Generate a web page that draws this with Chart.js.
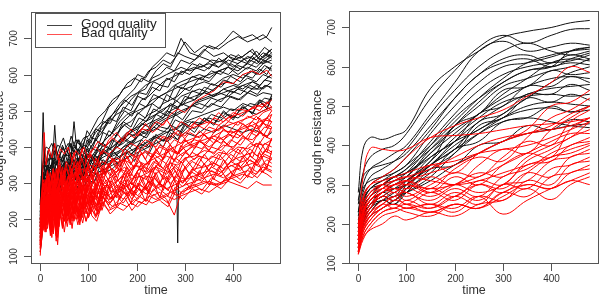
<!DOCTYPE html>
<html>
<head>
<meta charset="utf-8">
<script src="https://cdn.jsdelivr.net/npm/chart.js@4.4.1/dist/chart.umd.min.js"></script>
<style>
  html, body { margin: 0; padding: 0; background: #fff; }
  #wrap { position: relative; width: 604px; height: 297px; }
  canvas { position: absolute; top: 0; }
  #rawChart { left: 0; }
  #smoothChart { left: 302px; }
</style>
</head>
<body>
<div id="wrap">
  <canvas id="rawChart" width="302" height="297"></canvas>
  <canvas id="smoothChart" width="302" height="297"></canvas>
</div>
<script>
// Tick labels for both panels
const xTicks = [0, 100, 200, 300, 400];
const yTicks = [100, 200, 300, 400, 500, 600, 700];

// Time points of the raw (left) curves; three sampling grids
const rawTimesA = [0, 4, 8, 12, 18, 24, 30, 36, 42, 50, 58, 66, 74, 82, 90, 100, 110, 120, 135, 150,
  165, 180, 195, 210, 225, 240, 255, 270, 285, 300, 320, 340, 360, 380, 400, 420, 440, 455, 470, 480];
const rawTimesB = [0, 2, 6, 10, 15, 21, 27, 33, 39, 46, 54, 62, 70, 78, 86, 95, 105, 115, 128, 142,
  158, 172, 188, 202, 218, 232, 248, 262, 278, 292, 310, 330, 350, 370, 390, 410, 430, 448, 462, 480];
const rawTimesC = [0, 3, 7, 11, 16, 22, 28, 34, 40, 48, 56, 64, 72, 80, 88, 97, 107, 117, 130, 145,
  160, 175, 190, 205, 220, 235, 250, 265, 280, 295, 315, 335, 355, 375, 395, 415, 435, 450, 465, 480];

// Raw dough resistance, good quality
const goodRawA = [
  [250, 330, 380, 400, 395, 410, 385, 405, 400, 390, 410, 395, 420, 405, 425, 430, 455, 480, 500, 530, 545, 575, 590, 580, 610, 620, 640, 630, 655, 690, 660, 680, 670, 690, 720, 700, 710, 695, 705, 730],
  [220, 280, 320, 310, 340, 330, 460, 340, 350, 330, 360, 340, 370, 350, 380, 390, 410, 440, 460, 490, 520, 540, 560, 590, 580, 610, 630, 620, 660, 650, 640, 670, 650, 660, 640, 650, 670, 640, 660, 670],
  [200, 250, 290, 280, 300, 320, 300, 330, 310, 340, 320, 350, 340, 370, 350, 380, 370, 400, 420, 440, 470, 490, 500, 530, 540, 560, 580, 590, 600, 610, 620, 610, 630, 640, 620, 640, 650, 630, 640, 650],
  [180, 230, 270, 260, 290, 280, 310, 290, 320, 300, 330, 320, 340, 330, 350, 340, 370, 360, 390, 400, 420, 440, 450, 470, 490, 500, 520, 530, 540, 560, 570, 580, 570, 590, 600, 590, 610, 600, 620, 610],
  [160, 210, 250, 240, 270, 260, 290, 270, 300, 280, 310, 290, 320, 300, 330, 320, 340, 350, 360, 380, 390, 410, 420, 440, 450, 470, 480, 500, 510, 520, 530, 550, 540, 560, 570, 560, 580, 570, 590, 600],
  [200, 260, 300, 290, 310, 300, 330, 310, 340, 320, 350, 330, 360, 340, 370, 350, 380, 370, 400, 390, 420, 430, 450, 460, 480, 490, 500, 520, 510, 530, 540, 550, 540, 560, 550, 570, 560, 560, 570, 560],
  [130, 180, 220, 240, 230, 260, 240, 270, 260, 280, 270, 290, 280, 300, 290, 310, 300, 320, 330, 340, 360, 370, 390, 400, 420, 430, 440, 460, 450, 470, 480, 490, 500, 510, 500, 520, 510, 530, 520, 540],
  [160, 210, 250, 270, 260, 280, 270, 300, 280, 310, 290, 310, 300, 320, 310, 330, 320, 330, 340, 350, 360, 370, 380, 390, 400, 410, 420, 430, 420, 440, 430, 450, 440, 460, 450, 440, 450, 440, 430, 440],
  [110, 160, 200, 220, 210, 240, 230, 250, 240, 270, 260, 280, 270, 300, 290, 310, 300, 330, 340, 360, 370, 390, 410, 420, 440, 450, 470, 480, 490, 500, 520, 530, 540, 550, 560, 570, 580, 570, 590, 600],
  [190, 260, 250, 310, 280, 330, 300, 345, 315, 360, 320, 365, 335, 375, 345, 380, 360, 395, 380, 420, 405, 440, 430, 465, 455, 490, 480, 515, 505, 540, 530, 565, 555, 585, 575, 600, 590, 615, 600, 625],
  [170, 240, 230, 285, 260, 305, 280, 320, 290, 335, 300, 345, 310, 355, 320, 365, 335, 375, 350, 390, 370, 405, 385, 420, 400, 435, 415, 450, 430, 465, 450, 480, 465, 495, 480, 510, 495, 525, 505, 535],
  [150, 220, 210, 265, 240, 285, 255, 300, 270, 315, 280, 325, 290, 335, 300, 345, 315, 355, 330, 370, 345, 385, 360, 400, 380, 420, 400, 440, 420, 460, 440, 480, 460, 500, 475, 515, 490, 530, 505, 545]
];
const goodRawB = [
  [240, 300, 495, 330, 350, 340, 370, 355, 380, 360, 390, 375, 400, 390, 410, 400, 430, 450, 470, 510, 530, 560, 570, 600, 590, 620, 640, 660, 650, 700, 660, 650, 680, 670, 690, 705, 690, 700, 710, 690],
  [210, 260, 300, 290, 320, 310, 340, 320, 350, 330, 360, 350, 470, 360, 380, 370, 400, 420, 440, 470, 490, 500, 530, 550, 560, 590, 600, 620, 610, 640, 630, 650, 640, 620, 650, 640, 630, 650, 640, 660],
  [190, 240, 280, 270, 290, 310, 290, 320, 300, 330, 310, 340, 330, 360, 340, 370, 360, 380, 400, 410, 430, 460, 470, 490, 510, 520, 540, 550, 570, 580, 590, 600, 590, 610, 620, 600, 620, 610, 630, 640],
  [170, 220, 260, 280, 270, 300, 280, 310, 290, 320, 300, 330, 310, 340, 320, 350, 340, 370, 380, 390, 410, 420, 440, 450, 470, 480, 500, 510, 520, 540, 550, 560, 550, 570, 580, 570, 590, 580, 600, 590],
  [150, 200, 240, 260, 250, 280, 260, 290, 280, 300, 290, 320, 300, 330, 310, 340, 330, 350, 370, 380, 400, 410, 430, 440, 460, 470, 480, 500, 490, 520, 510, 530, 540, 550, 540, 560, 550, 570, 560, 580],
  [140, 190, 230, 220, 250, 240, 270, 250, 280, 260, 290, 280, 300, 290, 320, 300, 330, 340, 350, 370, 380, 400, 410, 430, 440, 450, 470, 480, 490, 500, 510, 520, 510, 530, 540, 530, 550, 540, 550, 545],
  [180, 240, 280, 270, 290, 280, 310, 290, 320, 300, 330, 310, 320, 300, 330, 310, 330, 340, 350, 360, 370, 380, 390, 400, 410, 420, 430, 440, 450, 460, 470, 460, 480, 470, 490, 480, 500, 490, 500, 510],
  [230, 290, 330, 320, 350, 340, 360, 350, 370, 360, 380, 370, 390, 380, 400, 390, 420, 440, 460, 480, 500, 520, 540, 550, 570, 580, 590, 600, 610, 620, 610, 620, 630, 620, 640, 630, 650, 640, 660, 650],
  [200, 250, 290, 310, 300, 320, 310, 340, 320, 350, 330, 360, 340, 370, 350, 380, 370, 390, 410, 430, 450, 470, 490, 500, 510, 530, 540, 550, 560, 570, 580, 590, 600, 610, 620, 610, 630, 620, 640, 630],
  [210, 280, 270, 330, 300, 350, 320, 360, 330, 375, 340, 385, 355, 395, 365, 405, 385, 420, 405, 445, 430, 470, 455, 495, 480, 520, 505, 545, 530, 565, 555, 590, 580, 610, 600, 625, 615, 640, 630, 655],
  [240, 320, 300, 360, 330, 380, 350, 395, 365, 405, 375, 410, 385, 420, 395, 430, 410, 450, 440, 480, 470, 510, 500, 540, 530, 565, 555, 590, 580, 610, 600, 630, 615, 645, 625, 655, 635, 665, 645, 670]
];
const goodRawC = [
  [200, 280, 330, 300, 350, 315, 365, 330, 355, 380, 335, 385, 350, 370, 345, 395, 370, 360, 410, 395, 440, 460, 445, 480, 470, 505, 495, 485, 530, 515, 555, 545, 575, 565, 595, 580, 610, 600, 625, 615],
  [180, 255, 305, 280, 325, 295, 340, 310, 330, 355, 315, 360, 330, 350, 325, 370, 345, 340, 385, 370, 410, 425, 410, 445, 435, 470, 455, 450, 490, 475, 515, 505, 535, 525, 555, 545, 570, 560, 585, 580],
  [220, 300, 350, 325, 370, 340, 390, 350, 375, 400, 360, 410, 375, 395, 370, 420, 395, 390, 440, 430, 470, 500, 485, 520, 510, 545, 535, 525, 570, 560, 595, 585, 610, 600, 630, 615, 640, 630, 655, 645],
  [160, 235, 285, 260, 305, 280, 320, 290, 315, 340, 300, 345, 315, 335, 310, 355, 330, 325, 365, 350, 380, 395, 380, 410, 400, 430, 420, 415, 450, 440, 470, 465, 490, 480, 505, 500, 520, 515, 535, 530],
  [240, 320, 370, 345, 390, 365, 410, 375, 400, 425, 385, 430, 400, 420, 395, 445, 425, 420, 470, 465, 500, 530, 515, 550, 545, 580, 570, 565, 605, 600, 630, 620, 640, 635, 655, 645, 665, 650, 675, 660],
  [190, 265, 315, 290, 335, 300, 350, 315, 340, 365, 325, 370, 340, 360, 335, 380, 355, 350, 395, 380, 400, 420, 405, 435, 425, 455, 445, 440, 475, 465, 500, 495, 520, 510, 540, 530, 555, 545, 570, 565]
];

// One good curve with a sharp drop near time 285
const dipTimes = [283, 285, 287];
const dipValues = [300, 135, 310];

// Raw dough resistance, bad quality
const badRawA = [
  [200, 290, 440, 350, 395, 370, 410, 365, 395, 380, 400, 360, 390, 375, 400, 370, 395, 415, 400, 425, 410, 440, 425, 450, 445, 470, 460, 490, 505, 495, 525, 540, 555, 580, 575, 600, 610, 600, 612, 595],
  [170, 215, 270, 240, 300, 235, 295, 270, 325, 260, 320, 290, 345, 280, 320, 305, 350, 315, 340, 365, 355, 390, 370, 395, 410, 400, 430, 420, 445, 430, 465, 450, 480, 470, 495, 485, 510, 500, 525, 510],
  [150, 195, 245, 210, 260, 200, 285, 190, 280, 230, 295, 225, 300, 250, 290, 240, 315, 270, 305, 320, 340, 315, 350, 345, 360, 385, 370, 395, 380, 405, 420, 410, 430, 445, 440, 455, 470, 455, 480, 470],
  [130, 175, 225, 185, 245, 165, 255, 150, 262, 195, 275, 195, 285, 205, 270, 225, 285, 240, 295, 275, 300, 290, 315, 320, 330, 345, 335, 355, 350, 370, 375, 390, 385, 405, 400, 425, 420, 440, 430, 445],
  [110, 155, 205, 165, 225, 150, 235, 130, 245, 165, 255, 175, 262, 185, 255, 205, 265, 220, 275, 255, 285, 270, 290, 280, 305, 290, 315, 300, 320, 310, 340, 345, 355, 340, 365, 375, 385, 370, 395, 385],
  [140, 195, 245, 225, 265, 235, 275, 215, 285, 245, 295, 255, 305, 235, 295, 245, 285, 255, 295, 275, 285, 265, 295, 275, 305, 285, 295, 275, 285, 295, 305, 315, 325, 315, 335, 345, 355, 345, 365, 355],
  [120, 165, 215, 185, 235, 195, 245, 165, 245, 195, 255, 205, 245, 195, 255, 205, 245, 215, 255, 235, 245, 235, 255, 245, 265, 255, 265, 275, 265, 285, 295, 305, 295, 305, 315, 325, 315, 335, 325, 315],
  [150, 230, 215, 265, 225, 280, 215, 290, 235, 300, 240, 305, 250, 315, 260, 320, 270, 330, 285, 340, 300, 345, 315, 355, 330, 365, 340, 375, 355, 385, 365, 400, 380, 415, 395, 430, 410, 445, 425, 455],
  [170, 250, 240, 300, 255, 320, 250, 330, 270, 335, 280, 340, 290, 350, 300, 355, 310, 365, 320, 370, 330, 375, 340, 385, 350, 395, 365, 405, 380, 420, 395, 435, 410, 450, 425, 465, 440, 480, 455, 490],
  [155, 215, 200, 250, 210, 265, 195, 275, 215, 285, 225, 290, 235, 300, 245, 305, 255, 315, 265, 320, 275, 330, 290, 340, 300, 350, 310, 360, 320, 370, 335, 380, 345, 390, 360, 400, 370, 415, 385, 425],
  [145, 205, 195, 245, 200, 260, 190, 270, 205, 280, 215, 285, 225, 290, 235, 295, 245, 300, 250, 305, 255, 310, 265, 320, 270, 330, 280, 335, 290, 345, 300, 355, 310, 365, 320, 375, 330, 385, 340, 390],
  [160, 220, 270, 250, 290, 260, 300, 250, 310, 270, 320, 280, 330, 270, 320, 290, 330, 300, 340, 320, 340, 330, 350, 340, 360, 370, 380, 390, 380, 400, 410, 420, 430, 420, 440, 450, 460, 470, 480, 490]
];
const badRawB = [
  [180, 240, 300, 270, 335, 290, 340, 300, 370, 315, 360, 340, 385, 330, 395, 360, 390, 400, 380, 420, 440, 415, 450, 430, 465, 440, 455, 475, 445, 470, 455, 480, 465, 495, 470, 505, 500, 515, 510, 530],
  [160, 200, 250, 225, 270, 240, 300, 205, 290, 255, 305, 240, 310, 270, 300, 260, 325, 285, 320, 345, 330, 365, 355, 375, 385, 370, 405, 395, 420, 410, 440, 425, 455, 445, 470, 460, 485, 475, 495, 505],
  [140, 185, 230, 195, 250, 175, 265, 165, 270, 210, 285, 205, 295, 215, 285, 235, 290, 255, 310, 290, 305, 320, 300, 335, 345, 330, 360, 375, 365, 380, 395, 415, 400, 420, 435, 425, 450, 440, 465, 455],
  [120, 165, 215, 175, 235, 155, 245, 140, 255, 175, 265, 185, 270, 200, 265, 215, 275, 235, 285, 265, 295, 285, 300, 290, 320, 315, 335, 325, 345, 330, 360, 375, 365, 385, 380, 400, 395, 410, 405, 420],
  [100, 150, 195, 165, 215, 170, 225, 160, 235, 180, 245, 190, 255, 205, 245, 195, 255, 210, 265, 240, 275, 255, 285, 265, 290, 275, 300, 285, 295, 305, 315, 325, 335, 325, 345, 355, 365, 355, 375, 365],
  [130, 185, 235, 195, 255, 205, 265, 185, 265, 215, 275, 225, 265, 215, 275, 235, 265, 225, 275, 255, 265, 245, 275, 255, 285, 265, 275, 255, 212, 275, 285, 295, 305, 295, 315, 325, 335, 325, 345, 335],
  [110, 155, 205, 175, 225, 185, 235, 155, 235, 185, 245, 195, 235, 185, 245, 195, 235, 205, 245, 225, 235, 225, 245, 235, 255, 245, 255, 265, 255, 265, 275, 285, 275, 295, 305, 295, 285, 305, 295, 295],
  [135, 200, 190, 240, 185, 255, 170, 265, 200, 275, 205, 280, 215, 285, 230, 295, 240, 300, 255, 310, 260, 320, 275, 330, 285, 340, 295, 350, 310, 360, 325, 370, 335, 380, 350, 395, 365, 410, 380, 420],
  [125, 185, 170, 225, 175, 240, 160, 245, 180, 255, 190, 260, 195, 270, 205, 275, 215, 280, 225, 290, 235, 295, 245, 300, 250, 310, 260, 320, 270, 330, 285, 335, 295, 345, 305, 355, 315, 365, 330, 370],
  [180, 260, 250, 310, 270, 330, 265, 340, 280, 345, 285, 350, 300, 360, 310, 365, 320, 370, 330, 380, 340, 390, 350, 400, 365, 410, 380, 420, 390, 435, 405, 445, 420, 460, 440, 470, 455, 485, 465, 500],
  [165, 240, 225, 280, 240, 300, 230, 310, 250, 320, 260, 325, 270, 330, 275, 340, 285, 345, 295, 355, 305, 365, 320, 370, 330, 380, 345, 395, 360, 405, 375, 420, 390, 430, 405, 445, 420, 460, 430, 470],
  [190, 260, 310, 290, 330, 300, 340, 290, 350, 300, 340, 310, 350, 320, 340, 330, 350, 340, 360, 350, 370, 360, 380, 370, 390, 380, 400, 390, 400, 410, 420, 430, 440, 450, 460, 470, 480, 490, 500, 510],
  [180, 250, 300, 270, 320, 280, 330, 270, 340, 290, 350, 300, 360, 310, 370, 330, 380, 350, 390, 380, 400, 390, 410, 400, 420, 410, 430, 420, 440, 430, 450, 460, 470, 460, 480, 490, 500, 510, 520, 500]
];
const badRawC = [
  [140, 210, 250, 205, 270, 230, 285, 215, 260, 290, 225, 300, 250, 280, 230, 295, 260, 240, 300, 255, 285, 310, 265, 300, 280, 320, 290, 305, 335, 300, 340, 320, 360, 345, 380, 360, 395, 375, 410, 400],
  [120, 180, 225, 190, 240, 175, 255, 200, 230, 260, 195, 265, 215, 245, 205, 270, 225, 210, 265, 230, 250, 275, 240, 265, 250, 285, 260, 245, 290, 270, 300, 280, 315, 300, 330, 310, 345, 330, 355, 345],
  [160, 230, 275, 240, 300, 255, 310, 245, 290, 320, 260, 325, 280, 305, 270, 330, 295, 280, 335, 300, 325, 345, 310, 340, 330, 360, 345, 330, 370, 355, 385, 370, 400, 390, 420, 405, 440, 430, 455, 450],
  [130, 195, 240, 200, 255, 185, 270, 210, 245, 275, 210, 280, 230, 260, 220, 285, 240, 225, 280, 245, 270, 290, 255, 285, 270, 300, 280, 265, 310, 290, 320, 305, 335, 320, 350, 335, 365, 350, 380, 370],
  [150, 220, 260, 225, 285, 240, 295, 230, 275, 305, 245, 310, 265, 290, 255, 315, 275, 260, 320, 285, 305, 330, 295, 320, 310, 345, 325, 310, 350, 330, 360, 345, 375, 365, 395, 380, 410, 400, 430, 420],
  [110, 165, 210, 170, 225, 160, 240, 185, 215, 245, 180, 250, 200, 230, 190, 255, 210, 195, 250, 215, 235, 260, 225, 250, 240, 270, 250, 235, 275, 255, 285, 270, 300, 285, 315, 300, 330, 315, 340, 330],
  [170, 245, 290, 255, 315, 270, 325, 265, 305, 335, 275, 340, 295, 320, 285, 345, 310, 295, 350, 320, 345, 365, 335, 360, 350, 380, 365, 350, 390, 375, 405, 395, 425, 410, 445, 430, 460, 450, 475, 470],
  [135, 200, 245, 210, 265, 200, 280, 220, 255, 285, 220, 290, 240, 270, 230, 295, 250, 235, 290, 260, 280, 300, 270, 295, 285, 315, 295, 280, 320, 300, 330, 315, 345, 330, 360, 345, 375, 360, 390, 380]
];

// Time points of the smoothed (right) curves
const smoothTimes = [0, 10, 25, 50, 75, 100, 150, 200, 250, 300, 350, 400, 440, 480];

// Smoothed dough resistance, good quality
const goodSmooth = [
  [280, 390, 420, 415, 425, 440, 545, 600, 640, 675, 690, 700, 712, 718],
  [250, 330, 370, 390, 400, 430, 520, 590, 650, 680, 660, 680, 695, 697],
  [230, 300, 340, 360, 380, 400, 480, 560, 640, 665, 640, 650, 660, 655],
  [220, 280, 320, 340, 360, 390, 470, 540, 600, 640, 660, 640, 630, 640],
  [200, 270, 300, 320, 340, 370, 440, 520, 580, 620, 630, 610, 630, 620],
  [210, 260, 290, 310, 330, 350, 430, 500, 560, 600, 610, 625, 640, 650],
  [190, 250, 280, 300, 320, 340, 410, 480, 540, 580, 600, 610, 615, 630],
  [180, 240, 270, 290, 310, 330, 400, 470, 520, 560, 590, 600, 610, 605],
  [170, 230, 260, 280, 300, 320, 390, 450, 500, 550, 570, 590, 600, 620],
  [160, 220, 250, 280, 270, 310, 360, 450, 480, 540, 550, 590, 580, 585],
  [200, 250, 280, 300, 310, 320, 380, 430, 480, 520, 550, 570, 575, 570],
  [150, 210, 240, 270, 260, 300, 370, 410, 480, 500, 550, 550, 575, 560],
  [170, 220, 260, 280, 290, 300, 350, 410, 460, 500, 530, 545, 550, 555],
  [140, 200, 230, 260, 250, 290, 350, 390, 460, 480, 530, 530, 555, 540],
  [190, 230, 260, 280, 300, 310, 360, 420, 470, 510, 525, 530, 525, 530],
  [150, 200, 230, 260, 250, 280, 340, 380, 450, 470, 520, 510, 530, 515],
  [130, 190, 220, 240, 260, 280, 320, 380, 430, 470, 500, 510, 505, 500],
  [160, 210, 240, 270, 260, 290, 330, 390, 410, 460, 470, 500, 485, 500],
  [140, 200, 240, 260, 280, 300, 350, 400, 440, 470, 490, 495, 485, 490],
  [180, 240, 270, 300, 290, 300, 340, 350, 400, 410, 450, 440, 465, 460],
  [150, 210, 250, 270, 290, 310, 350, 390, 430, 460, 470, 460, 450, 445],
  [200, 260, 290, 300, 320, 330, 380, 450, 510, 560, 590, 600, 640, 650],
  [170, 240, 270, 300, 320, 340, 390, 440, 480, 530, 570, 610, 620, 615],
  [230, 290, 310, 320, 330, 350, 400, 460, 520, 570, 610, 630, 640, 645],
  [260, 320, 340, 350, 360, 380, 450, 520, 580, 610, 620, 600, 620, 635],
  [190, 250, 290, 310, 320, 330, 370, 410, 440, 480, 520, 560, 585, 600],
  [160, 220, 250, 260, 270, 280, 310, 350, 380, 410, 430, 440, 450, 455]
];

// Smoothed dough resistance, bad quality
const badSmooth = [
  [190, 320, 392, 390, 386, 390, 420, 425, 430, 440, 450, 455, 460, 470],
  [170, 260, 300, 320, 340, 370, 420, 450, 470, 490, 525, 560, 600, 586],
  [160, 230, 270, 300, 320, 300, 350, 330, 380, 410, 440, 500, 510, 540],
  [170, 240, 280, 300, 280, 310, 290, 340, 370, 360, 420, 470, 490, 520],
  [150, 220, 260, 280, 300, 290, 320, 300, 350, 390, 380, 440, 470, 500],
  [140, 210, 250, 270, 290, 270, 300, 330, 320, 370, 410, 400, 460, 490],
  [160, 230, 270, 290, 280, 300, 280, 320, 300, 350, 380, 370, 440, 470],
  [150, 210, 240, 270, 260, 290, 270, 300, 330, 320, 370, 400, 420, 460],
  [130, 190, 230, 260, 280, 260, 290, 270, 310, 300, 360, 390, 420, 440],
  [140, 200, 240, 280, 290, 280, 260, 290, 270, 320, 340, 380, 400, 420],
  [170, 230, 260, 290, 300, 310, 280, 300, 280, 300, 350, 360, 400, 410],
  [130, 180, 220, 250, 270, 250, 280, 260, 300, 280, 330, 370, 380, 400],
  [150, 200, 230, 250, 270, 280, 250, 280, 260, 300, 310, 360, 370, 390],
  [140, 190, 220, 250, 240, 260, 240, 270, 300, 290, 330, 320, 370, 380],
  [125, 170, 200, 230, 240, 250, 240, 270, 250, 300, 290, 340, 350, 370],
  [130, 180, 210, 240, 250, 240, 250, 230, 270, 260, 310, 300, 350, 360],
  [150, 190, 220, 240, 260, 250, 230, 250, 240, 280, 270, 320, 330, 350],
  [122, 160, 190, 220, 230, 240, 230, 250, 240, 270, 300, 290, 330, 340],
  [140, 180, 210, 240, 250, 240, 250, 240, 270, 225, 260, 290, 310, 330],
  [125, 165, 185, 200, 220, 210, 230, 220, 250, 260, 290, 262, 300, 320],
  [130, 170, 200, 230, 240, 230, 220, 250, 240, 280, 300, 290, 310, 300],
  [160, 220, 260, 280, 300, 310, 330, 350, 380, 410, 430, 450, 480, 500],
  [180, 250, 280, 300, 310, 320, 340, 370, 400, 420, 430, 440, 450, 470],
  [200, 270, 300, 310, 320, 330, 350, 360, 380, 390, 400, 420, 440, 460],
  [150, 210, 250, 280, 300, 300, 290, 300, 320, 350, 380, 410, 430, 430],
  [170, 230, 260, 290, 310, 320, 310, 300, 310, 330, 350, 370, 390, 405]
];

const FONT = '"Liberation Sans", Arial, Helvetica, sans-serif';
const GOOD_COLOR = '#111111';
const BAD_COLOR = '#ff0000';

// Turn one row of values into {x, y} points
function toPoints(times, row) {
    return row.map((v, i) => ({ x: times[i], y: v }));
}

function curveSet(times, row, color, tension, order) {
    return {
        data: toPoints(times, row),
        borderColor: color,
        borderWidth: 1,
        pointRadius: 0,
        fill: false,
        tension: tension,
        order: order
    };
}

// R style box, ticks, labels and optional legend
const rAxes = {
    id: 'rAxes',
    afterDraw(chart, args, opts) {
        const c = chart.ctx;
        const a = chart.chartArea;
        const xs = chart.scales.x;
        const ys = chart.scales.y;
        c.save();
        c.strokeStyle = '#555';
        c.lineWidth = 1;
        c.strokeRect(a.left + 0.5, a.top + 0.5, a.right - a.left - 1, a.bottom - a.top - 1);

        c.fillStyle = '#333';
        c.font = '10px ' + FONT;
        c.textAlign = 'center';
        c.textBaseline = 'middle';
        c.beginPath();
        xTicks.forEach(v => {
            const px = Math.round(xs.getPixelForValue(v)) + 0.5;
            c.moveTo(px, a.bottom);
            c.lineTo(px, a.bottom + 7);
            c.fillText(String(v), px, a.bottom + 15);
        });
        yTicks.forEach(v => {
            const py = Math.round(ys.getPixelForValue(v)) + 0.5;
            c.moveTo(a.left - 7, py);
            c.lineTo(a.left, py);
            c.save();
            c.translate(a.left - 17, py);
            c.rotate(-Math.PI / 2);
            c.fillText(String(v), 0, 0);
            c.restore();
        });
        c.stroke();

        // axis titles
        c.font = '12.5px ' + FONT;
        c.fillText('time', (a.left + a.right) / 2, a.bottom + 27);
        c.save();
        c.translate(a.left - 31, (a.top + a.bottom) / 2);
        c.rotate(-Math.PI / 2);
        c.fillText('dough resistance', 0, 0);
        c.restore();

        if (opts.legend) {
            c.fillStyle = '#fff';
            c.fillRect(35, 13, 130, 34);
            c.strokeStyle = '#555';
            c.strokeRect(35.5, 13.5, 130, 34);
            c.strokeStyle = '#444';
            c.beginPath(); c.moveTo(47, 25.5); c.lineTo(72, 25.5); c.stroke();
            c.strokeStyle = '#ff5050';
            c.beginPath(); c.moveTo(47, 34.5); c.lineTo(72, 34.5); c.stroke();
            c.fillStyle = '#222';
            c.font = '13.5px ' + FONT;
            c.textAlign = 'left';
            c.fillText('Good quality', 81, 24);
            c.fillText('Bad quality', 81, 33);
        }
        c.restore();
    }
};

// groups: [times, rows, color, order]
function makeChart(id, groups, tension, yRange, pad, legend) {
    const datasets = [];
    groups.forEach(g => g[1].forEach(r => datasets.push(curveSet(g[0], r, g[2], tension, g[3]))));

    return new Chart(document.getElementById(id).getContext('2d'), {
        type: 'line',
        data: { datasets: datasets },
        options: {
            responsive: false,
            animation: false,
            events: [],
            layout: { padding: pad },
            scales: {
                x: { type: 'linear', min: -19.2, max: 499.2, display: false },
                y: { type: 'linear', min: yRange[0], max: yRange[1], display: false }
            },
            plugins: {
                legend: { display: false },
                tooltip: { enabled: false },
                rAxes: { legend: legend }
            }
        },
        plugins: [rAxes]
    });
}

// Left: raw curves
makeChart('rawChart', [
    [rawTimesA, goodRawA, GOOD_COLOR, 2],
    [rawTimesB, goodRawB, GOOD_COLOR, 2],
    [rawTimesC, goodRawC, GOOD_COLOR, 2],
    [dipTimes, [dipValues], GOOD_COLOR, 2],
    [rawTimesA, badRawA, BAD_COLOR, 1],
    [rawTimesB, badRawB, BAD_COLOR, 1],
    [rawTimesC, badRawC, BAD_COLOR, 1]
], 0, [77, 772.6], { left: 31, top: 12, right: 21, bottom: 33 }, true);

// Right: smoothed curves
makeChart('smoothChart', [
    [smoothTimes, goodSmooth, GOOD_COLOR, 2],
    [smoothTimes, badSmooth, BAD_COLOR, 1]
], 0.4, [98, 742], { left: 47, top: 11, right: 5, bottom: 33 }, false);
</script>
</body>
</html>
